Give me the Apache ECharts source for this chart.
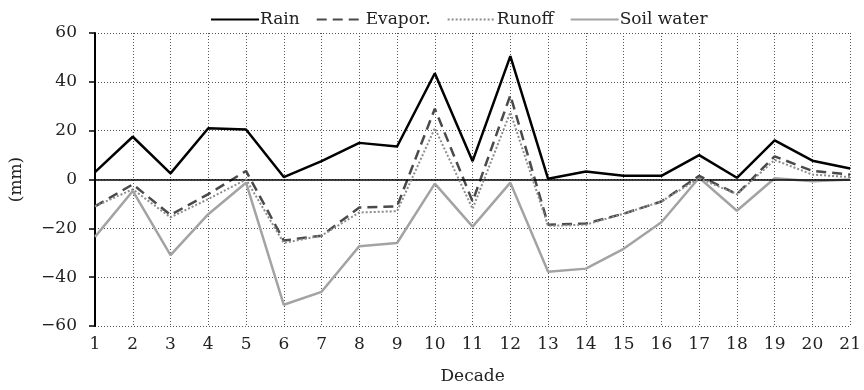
<!DOCTYPE html>
<html>
<head>
<meta charset="utf-8">
<script src="https://cdn.jsdelivr.net/npm/echarts@6/dist/echarts.min.js"></script>
<style>
  html, body { margin: 0; padding: 0; background: #fff; }
  #chart { width: 864px; height: 390px; }
</style>
</head>
<body>
<div id="chart"></div>
<script>
var decades = ['1','2','3','4','5','6','7','8','9','10','11','12','13','14','15','16','17','18','19','20','21'];
var rain      = [3, 17.5, 2.5, 21, 20.5, 1, 7.5, 15, 13.5, 43.5, 7.5, 50.5, 0.3, 3.3, 1.5, 1.5, 10, 0.7, 16, 7.7, 4.5];
var evapor    = [-11, -2, -14.5, -6, 3.5, -25, -23, -11.5, -11, 29, -9, 34.5, -18.5, -18, -14, -9, 1.5, -6, 9.5, 3.5, 2];
var runoff    = [-11, -4, -15.5, -8, 0, -26, -23, -13.5, -13, 21, -12, 27.5, -19, -18.5, -14, -9, 0.5, -6, 8, 2, 1];
var soilWater = [-23.5, -4.7, -31, -14.2, -1.3, -51.3, -46, -27.3, -26, -1.7, -19.3, -1.3, -37.8, -36.5, -28.4, -17.5, 0.7, -12.8, 0.5, -0.7, 0];
var yMin = -60, yMax = 60, yStep = 20;

var font = 'DejaVu Serif';
var myChart = echarts.init(document.getElementById('chart'));

var option = {
    animation: false,
    textStyle: {fontFamily: font},
    legend: {
        left: 205,
        top: 6,
        itemWidth: 48,
        itemHeight: 14,
        itemGap: 16,
        itemStyle: {opacity: 0},
        textStyle: {fontFamily: font, fontSize: 17, color: '#222', padding: [0, 0, 0, -4]},
        data: ['Rain', 'Evapor.', 'Runoff', 'Soil water']
    },
    grid: {left: 95, right: 8, top: 33, bottom: 61},
    xAxis: {
        type: 'category',
        data: decades,
        boundaryGap: false,
        name: 'Decade',
        nameLocation: 'middle',
        nameGap: 42,
        nameTextStyle: {fontFamily: font, fontSize: 17, color: '#222'},
        axisLine: {show: false},
        axisTick: {show: false},
        axisLabel: {fontFamily: font, fontSize: 17, color: '#222', margin: 10, interval: 0},
        splitLine: {show: true, interval: 0, lineStyle: {color: '#555', type: [1, 2], width: 1}}
    },
    yAxis: {
        type: 'value',
        min: yMin,
        max: yMax,
        interval: yStep,
        name: '(mm)',
        nameLocation: 'middle',
        nameGap: 70,
        nameRotate: 90,
        nameTextStyle: {fontFamily: font, fontSize: 17, color: '#222'},
        axisLine: {show: true, lineStyle: {color: '#000', width: 2}},
        axisTick: {show: true, length: 6, lineStyle: {color: '#000', width: 1.5}},
        axisLabel: {
            fontFamily: font, fontSize: 17, color: '#222', margin: 18,
            formatter: function (v) { return String(v).replace('-', '\u2212'); }
        },
        splitLine: {show: true, lineStyle: {color: '#555', type: [1, 2], width: 1}}
    },
    series: [
        {
            name: 'Rain', type: 'line', data: rain, symbol: 'none', z: 6,
            lineStyle: {color: '#000', width: 2.5}, itemStyle: {color: '#000'},
            markLine: {
                silent: true, symbol: 'none', label: {show: false},
                lineStyle: {color: '#000', width: 1.5, type: 'solid'},
                data: [{yAxis: 0}]
            }
        },
        {
            name: 'Evapor.', type: 'line', data: evapor, symbol: 'none', z: 4,
            lineStyle: {color: '#4a4a4a', width: 2.5, type: [10, 6]}, itemStyle: {color: '#4a4a4a'}
        },
        {
            name: 'Runoff', type: 'line', data: runoff, symbol: 'none', z: 5,
            lineStyle: {color: '#8c8c8c', width: 2, type: [2, 2]}, itemStyle: {color: '#8c8c8c'}
        },
        {
            name: 'Soil water', type: 'line', data: soilWater, symbol: 'none', z: 3,
            lineStyle: {color: '#a3a3a3', width: 2.5}, itemStyle: {color: '#a3a3a3'}
        }
    ]
};
myChart.setOption(option, true);
</script>
</body>
</html>
